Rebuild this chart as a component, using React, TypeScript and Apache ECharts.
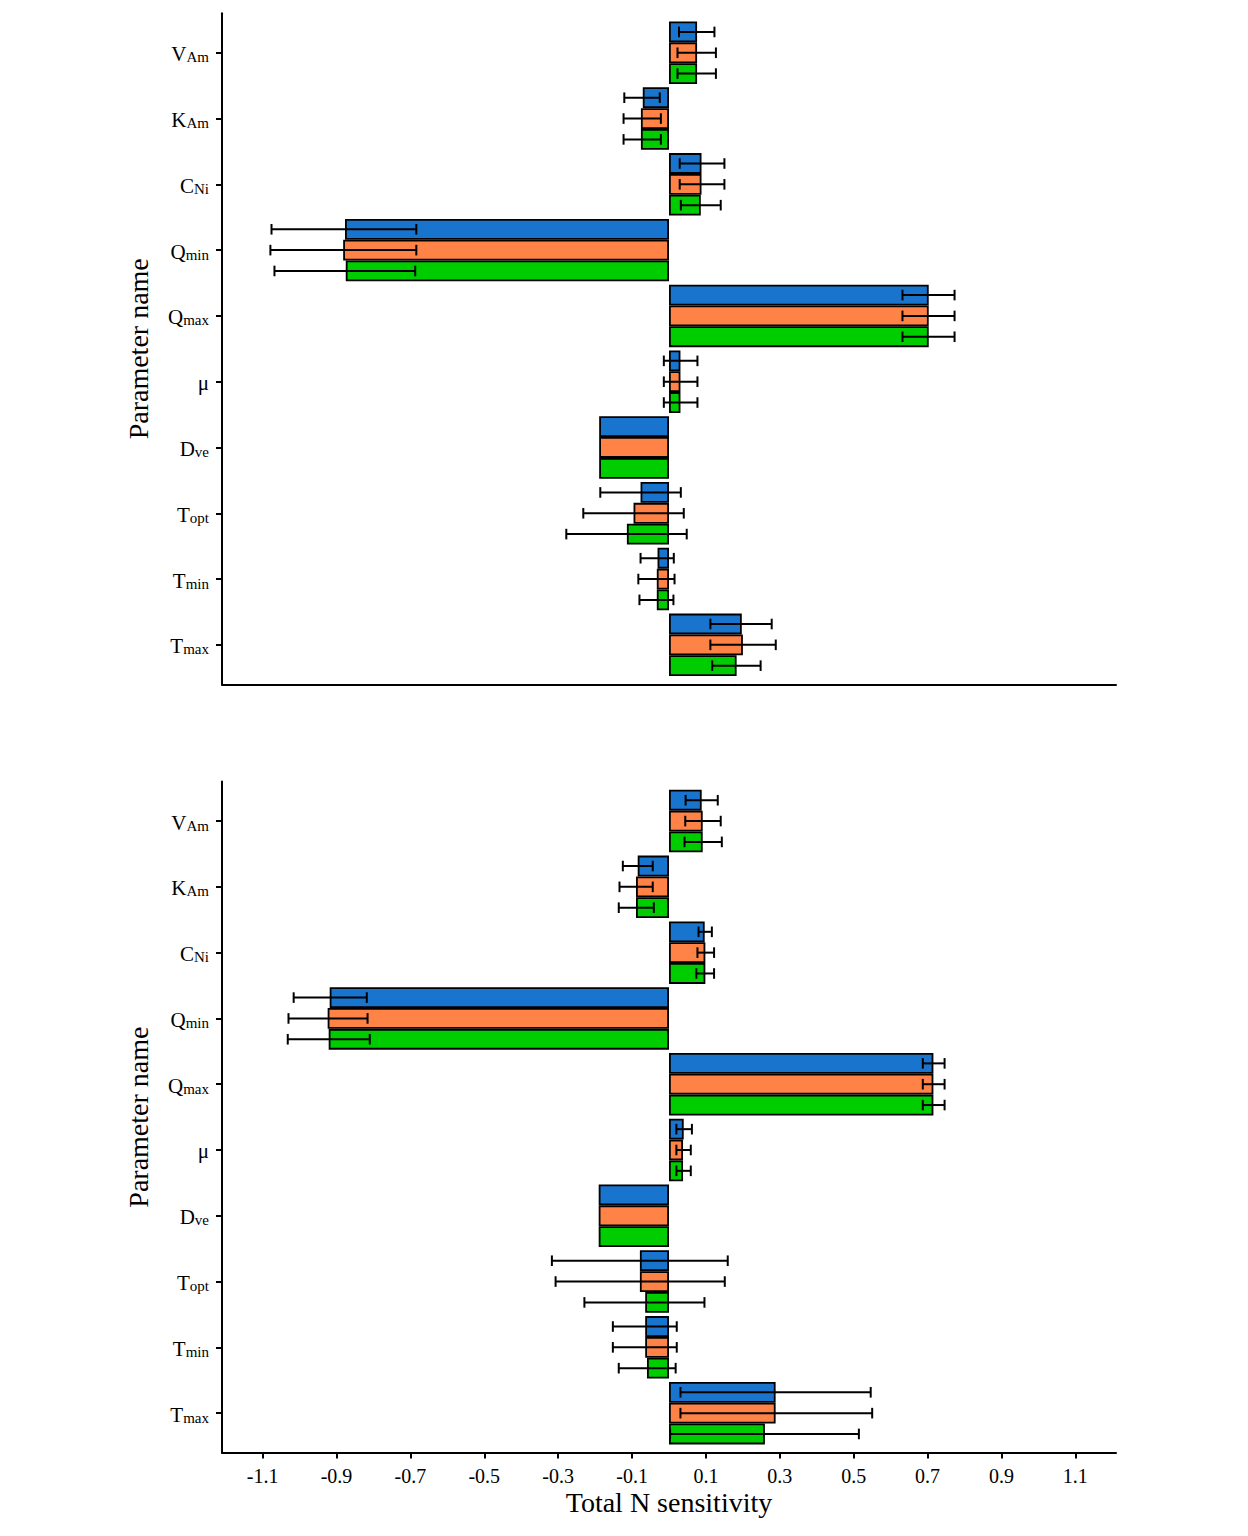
import React, { useEffect, useRef } from "react";
import * as echarts from "echarts";

// ---------- data ----------
const categories = ["V_Am", "K_Am", "C_Ni", "Q_min", "Q_max", "mu", "D_ve", "T_opt", "T_min", "T_max"];
const labelMain = ["V", "K", "C", "Q", "Q", "μ", "D", "T", "T", "T"];
const labelSub = ["Am", "Am", "Ni", "min", "max", "", "ve", "opt", "min", "max"];
const xTickValues = [-1.1, -0.9, -0.7, -0.5, -0.3, -0.1, 0.1, 0.3, 0.5, 0.7, 0.9, 1.1];

const topBlue = [0.076, -0.071, 0.088, -0.877, 0.703, 0.031, -0.189, -0.077, -0.031, 0.197];
const topOrange = [0.076, -0.076, 0.088, -0.882, 0.703, 0.031, -0.189, -0.096, -0.033, 0.2];
const topGreen = [0.076, -0.076, 0.086, -0.875, 0.703, 0.031, -0.189, -0.114, -0.033, 0.183];

const topBlueLow = [0.027, -0.121, 0.029, -1.076, 0.632, -0.014, null, -0.186, -0.077, 0.112];
const topBlueHigh = [0.123, -0.025, 0.15, -0.684, 0.773, 0.077, null, 0.032, 0.013, 0.278];
const topOrangeLow = [0.023, -0.123, 0.029, -1.079, 0.632, -0.014, null, -0.232, -0.083, 0.112];
const topOrangeHigh = [0.127, -0.022, 0.15, -0.684, 0.773, 0.077, null, 0.04, 0.015, 0.289];
const topGreenLow = [0.023, -0.123, 0.032, -1.068, 0.632, -0.014, null, -0.278, -0.08, 0.117];
const topGreenHigh = [0.127, -0.022, 0.14, -0.687, 0.773, 0.077, null, 0.048, 0.012, 0.248];

const botBlue = [0.0885, -0.0847, 0.0966, -0.9185, 0.7157, 0.0398, -0.1903, -0.0788, -0.0644, 0.2886];
const botOrange = [0.0912, -0.0893, 0.0984, -0.924, 0.7157, 0.038, -0.1903, -0.0788, -0.0644, 0.2886];
const botGreen = [0.0912, -0.0893, 0.0984, -0.9212, 0.7157, 0.038, -0.1903, -0.0644, -0.0596, 0.2596];

const botBlueLow = [0.045, -0.125, 0.08, -1.016, 0.687, 0.02, null, -0.317, -0.152, 0.031];
const botBlueHigh = [0.132, -0.044, 0.116, -0.818, 0.746, 0.062, null, 0.159, 0.021, 0.546];
const botOrangeLow = [0.044, -0.134, 0.077, -1.03, 0.687, 0.02, null, -0.307, -0.152, 0.031];
const botOrangeHigh = [0.14, -0.044, 0.122, -0.816, 0.746, 0.059, null, 0.151, 0.021, 0.55];
const botGreenLow = [0.042, -0.136, 0.074, -1.032, 0.687, 0.02, null, -0.229, -0.136, 0.003];
const botGreenHigh = [0.143, -0.041, 0.122, -0.81, 0.746, 0.059, null, 0.096, 0.018, 0.514];

const colors = ["#1874CD", "#FF8247", "#00CD00"];
const FONT = "Liberation Serif";

const X_MIN = -1.21;
const X_MAX = 1.21;
const CAT_GAP = 0.05;

function errData(lo: (number | null)[], hi: (number | null)[]) {
  const out: number[][] = [];
  lo.forEach((l, i) => {
    const h = hi[i];
    if (l !== null && h !== null) out.push([i, l, h]);
  });
  return out;
}

const makeErrRender = (k: number) => (params: any, api: any) => {
  const cat = api.value(0);
  const lo = api.value(1);
  const hi = api.value(2);
  const p1 = api.coord([lo, cat]);
  const p2 = api.coord([hi, cat]);
  const band = Math.abs(api.size([0, 1])[1]);
  const total = band * (1 - CAT_GAP);
  const w = total / 3;
  const y = p1[1] - total / 2 + w * (k + 0.5);
  const cap = 5.3;
  const style = { stroke: "#000", lineWidth: 2 };
  return {
    type: "group",
    children: [
      { type: "line", shape: { x1: p1[0], y1: y, x2: p2[0], y2: y }, style },
      { type: "line", shape: { x1: p1[0], y1: y - cap, x2: p1[0], y2: y + cap }, style },
      { type: "line", shape: { x1: p2[0], y1: y - cap, x2: p2[0], y2: y + cap }, style },
    ],
  };
};

const yLabelFormatter = (_v: string, i: number) =>
  labelSub[i] ? `{m|${labelMain[i]}}{s|${labelSub[i]}}` : `{m|${labelMain[i]}}`;

function catAxis(gridIndex: number) {
  return {
    type: "category",
    gridIndex,
    data: categories,
    inverse: true,
    position: "left",
    axisLine: { show: false, onZero: false },
    axisTick: { show: true, alignWithLabel: true, length: 6, lineStyle: { color: "#000", width: 2 } },
    axisLabel: {
      margin: 13,
      formatter: yLabelFormatter,
      rich: {
        m: { fontFamily: FONT, fontSize: 21, color: "#000", lineHeight: 24, verticalAlign: "bottom" },
        s: { fontFamily: FONT, fontSize: 15, color: "#000", lineHeight: 9, verticalAlign: "bottom" },
      },
    },
    splitLine: { show: false },
  };
}

function frameYAxis(gridIndex: number) {
  return {
    type: "value",
    gridIndex,
    min: 0,
    max: 1,
    position: "left",
    axisLine: { show: true, onZero: false, lineStyle: { color: "#000", width: 2 } },
    axisTick: { show: false },
    axisLabel: { show: false },
    splitLine: { show: false },
    name: "Parameter name",
    nameLocation: "middle",
    nameGap: 70,
    nameTextStyle: { fontFamily: FONT, fontSize: 28, color: "#000" },
  };
}

function hiddenXAxis(gridIndex: number) {
  return {
    type: "value",
    gridIndex,
    min: X_MIN,
    max: X_MAX,
    show: false,
    splitLine: { show: false },
  };
}

function barSeries(name: string, data: number[], color: string, xi: number, yi: number) {
  return {
    type: "bar",
    name,
    xAxisIndex: xi,
    yAxisIndex: yi,
    data,
    barGap: "0%",
    barCategoryGap: `${CAT_GAP * 100}%`,
    itemStyle: { color, borderColor: "#000", borderWidth: 1.8 },
    emphasis: { disabled: true },
  };
}

function errSeries(k: number, lo: (number | null)[], hi: (number | null)[], xi: number, yi: number) {
  return {
    type: "custom",
    xAxisIndex: xi,
    yAxisIndex: yi,
    renderItem: makeErrRender(k),
    data: errData(lo, hi),
    encode: { x: [1, 2], y: 0 },
    z: 5,
    silent: true,
  };
}

export default function App() {
  const ref = useRef<HTMLDivElement>(null);

  useEffect(() => {
    document.body.style.margin = "0";
    if (!ref.current) return;
    const chart = echarts.init(ref.current, undefined, { renderer: "svg" });
    const unit = 671 / 10.2;
    const pad = unit * 0.1;
    const topFrame = 13.3;
    const botFrame = 781.6;
    const frameH = 671;

    const option: any = {
      animation: false,
      backgroundColor: "#ffffff",
      textStyle: { fontFamily: FONT },
      grid: [
        { left: 222, right: 132, top: topFrame + pad, height: frameH - 2 * pad },
        { left: 222, right: 132, top: topFrame, height: frameH },
        { left: 222, right: 132, top: botFrame + pad, height: frameH - 2 * pad },
        { left: 222, right: 132, top: botFrame, height: frameH },
      ],
      xAxis: [
        hiddenXAxis(0),
        {
          type: "value",
          gridIndex: 1,
          min: X_MIN,
          max: X_MAX,
          position: "bottom",
          axisLine: { show: true, onZero: false, lineStyle: { color: "#000", width: 2 } },
          axisTick: { show: false },
          axisLabel: { show: false },
          splitLine: { show: false },
        },
        hiddenXAxis(2),
        {
          type: "value",
          gridIndex: 3,
          min: X_MIN,
          max: X_MAX,
          position: "bottom",
          axisLine: { show: true, onZero: false, lineStyle: { color: "#000", width: 2 } },
          axisTick: {
            show: true,
            length: 6,
            customValues: xTickValues,
            lineStyle: { color: "#000", width: 2 },
          },
          axisLabel: {
            show: true,
            customValues: xTickValues,
            margin: 13,
            fontFamily: FONT,
            fontSize: 20,
            color: "#000",
            formatter: (v: number) => String(Math.round(v * 10) / 10),
          },
          splitLine: { show: false },
          name: "Total N sensitivity",
          nameLocation: "middle",
          nameGap: 36,
          nameTextStyle: { fontFamily: FONT, fontSize: 28, color: "#000" },
        },
      ],
      yAxis: [catAxis(0), frameYAxis(1), catAxis(2), frameYAxis(3)],
      series: [
        barSeries("a", topBlue, colors[0], 0, 0),
        barSeries("b", topOrange, colors[1], 0, 0),
        barSeries("c", topGreen, colors[2], 0, 0),
        errSeries(0, topBlueLow, topBlueHigh, 0, 0),
        errSeries(1, topOrangeLow, topOrangeHigh, 0, 0),
        errSeries(2, topGreenLow, topGreenHigh, 0, 0),
        barSeries("a", botBlue, colors[0], 2, 2),
        barSeries("b", botOrange, colors[1], 2, 2),
        barSeries("c", botGreen, colors[2], 2, 2),
        errSeries(0, botBlueLow, botBlueHigh, 2, 2),
        errSeries(1, botOrangeLow, botOrangeHigh, 2, 2),
        errSeries(2, botGreenLow, botGreenHigh, 2, 2),
      ],
    };
    chart.setOption(option);
    return () => chart.dispose();
  }, []);

  return <div ref={ref} style={{ width: 1248, height: 1536 }} />;
}
